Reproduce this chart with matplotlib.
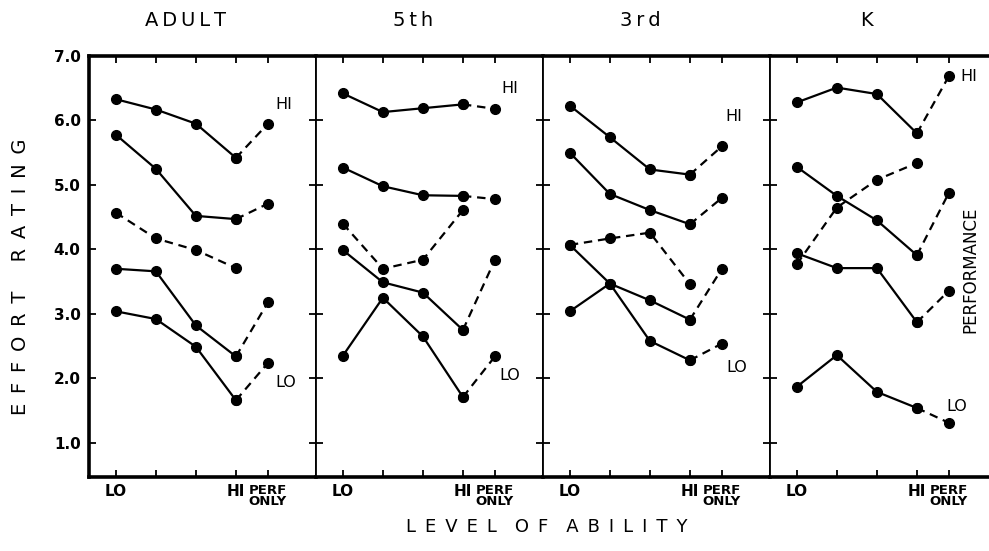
"""Effort rating by level of ability, four age groups (redrawn figure)."""

import matplotlib
matplotlib.use("Agg")
import matplotlib.pyplot as plt

# ── Data ──────────────────────────────────────────────────────────────────────

PANELS = ["ADULT", "5th", "3rd", "K"]
LEVELS = [1, 2, 3, 4]          # LO ... HI
PERF_POS = 4.8                 # "PERF ONLY" column

# four solid series per panel (top to bottom), the dashed series, perf-only points
ADULT_SOLID = [[6.33, 6.17, 5.95, 5.42],
               [5.78, 5.25, 4.52, 4.47],
               [3.70, 3.66, 2.82, 2.34],
               [3.04, 2.92, 2.49, 1.66]]
ADULT_PERF = [5.95, 4.71, 3.18, 2.24]
ADULT_DASHED = [4.57, 4.17, 3.99, 3.71]

FIFTH_SOLID = [[6.42, 6.13, 6.19, 6.25],
               [5.27, 4.98, 4.84, 4.83],
               [3.99, 3.49, 3.33, 2.75],
               [2.35, 3.25, 2.65, 1.71]]
FIFTH_PERF = [6.18, 4.78, 3.84, 2.34]
FIFTH_DASHED = [4.40, 3.70, 3.84, 4.61]

THIRD_SOLID = [[6.23, 5.74, 5.24, 5.16],
               [5.50, 4.86, 4.61, 4.39],
               [3.04, 3.47, 3.21, 2.91],
               [4.07, 3.47, 2.58, 2.28]]
THIRD_PERF = [5.60, 4.80, 3.70, 2.54]
THIRD_DASHED = [4.07, 4.17, 4.26, 3.46]

K_SOLID = [[6.28, 6.51, 6.41, 5.80],
           [5.28, 4.83, 4.45, 3.91],
           [3.94, 3.71, 3.71, 2.87],
           [1.87, 2.36, 1.79, 1.54]]
K_PERF = [6.69, 4.88, 3.36, 1.31]
K_DASHED = [3.77, 4.65, 5.08, 5.34]

SOLID = [ADULT_SOLID, FIFTH_SOLID, THIRD_SOLID, K_SOLID]
PERF = [ADULT_PERF, FIFTH_PERF, THIRD_PERF, K_PERF]
DASHED = [ADULT_DASHED, FIFTH_DASHED, THIRD_DASHED, K_DASHED]

Y_TICKS = [1, 2, 3, 4, 5, 6, 7]
Y_TICK_LABELS = ["1.0", "2.0", "3.0", "4.0", "5.0", "6.0", "7.0"]
X_TICK_LABELS = ["LO", "", "", "HI", "PERF\nONLY"]

# HI / LO annotation positions (data coords) per panel
HI_POS = [(5.2, 6.25), (5.17, 6.49), (5.1, 6.06), (5.3, 6.68)]
LO_POS = [(5.25, 1.93), (5.17, 2.05), (5.18, 2.17), (5.0, 1.56)]

# ── Helpers ───────────────────────────────────────────────────────────────────

def spaced(text, gap="\u2002", word_gap=3):
    """Letter-spaced caption text, words separated by a wider gap."""
    return (gap * word_gap).join(gap.join(word) for word in text.split(" "))

# ── Figure ────────────────────────────────────────────────────────────────────

plt.rcParams["font.family"] = ["DejaVu Sans"]

fig = plt.figure(figsize=(9.89, 5.51), dpi=100)
axes = fig.subplots(1, 4, sharey=True, gridspec_kw=dict(wspace=0))
fig.subplots_adjust(left=89 / 989, right=997 / 989, top=1 - 56 / 551, bottom=1 - 477 / 551)

LW = 1.6
MS = 7
DASH = (3.8, 2.6)

for i, ax in enumerate(axes):
    for vals, perf in zip(SOLID[i], PERF[i]):
        ax.plot(LEVELS, vals, "-", color="black", lw=LW, marker="o", ms=MS)
        ax.plot([LEVELS[-1], PERF_POS], [vals[-1], perf], color="black", lw=LW,
                marker="o", ms=MS, dashes=DASH)
    ax.plot(LEVELS, DASHED[i], color="black", lw=LW, marker="o", ms=MS, dashes=DASH)

    ax.text(*HI_POS[i], "HI", fontsize=11.5, va="center", ha="center")
    ax.text(*LO_POS[i], "LO", fontsize=11.5, va="center", ha="center")

    ax.set_xlim(0.33, 6.0)
    ax.set_ylim(0.47, 7.0)
    ax.set_xticks(LEVELS + [PERF_POS])
    ax.set_xticklabels(X_TICK_LABELS, fontsize=11, fontweight="bold")
    lbls = ax.get_xticklabels()
    lbls[4].set_fontsize(9.5)
    lbls[4].set_linespacing(0.8)
    ax.set_yticks(Y_TICKS)
    ax.tick_params(axis="both", direction="in", top=True, right=True,
                   length=5, width=1.3, pad=6)
    ax.tick_params(axis="x", pad=5)

    for side in ("top", "bottom"):
        ax.spines[side].set_linewidth(2.6)
    ax.spines["left"].set_linewidth(2.6 if i == 0 else 1.3)
    ax.spines["right"].set_linewidth(1.3)

    ax.text(2.75, 1.085, "\u2009".join(PANELS[i]), transform=ax.get_xaxis_transform(),
            fontsize=14, ha="center", va="center")

axes[0].set_yticklabels(Y_TICK_LABELS, fontsize=11, fontweight="bold")
for ax in axes[1:]:
    ax.tick_params(axis="y", labelleft=False)

fig.text(0.021, 0.497, spaced("EFFORT RATING"), rotation=90,
         fontsize=14, ha="center", va="center")
fig.text(0.553, 0.044, spaced("LEVEL OF ABILITY", word_gap=2),
         fontsize=13, ha="center", va="center")
fig.text(970 / 989, 1 - 270 / 551, "PERFORMANCE", rotation=90,
         fontsize=12, ha="center", va="center")

fig.savefig("out.png", dpi=100)
